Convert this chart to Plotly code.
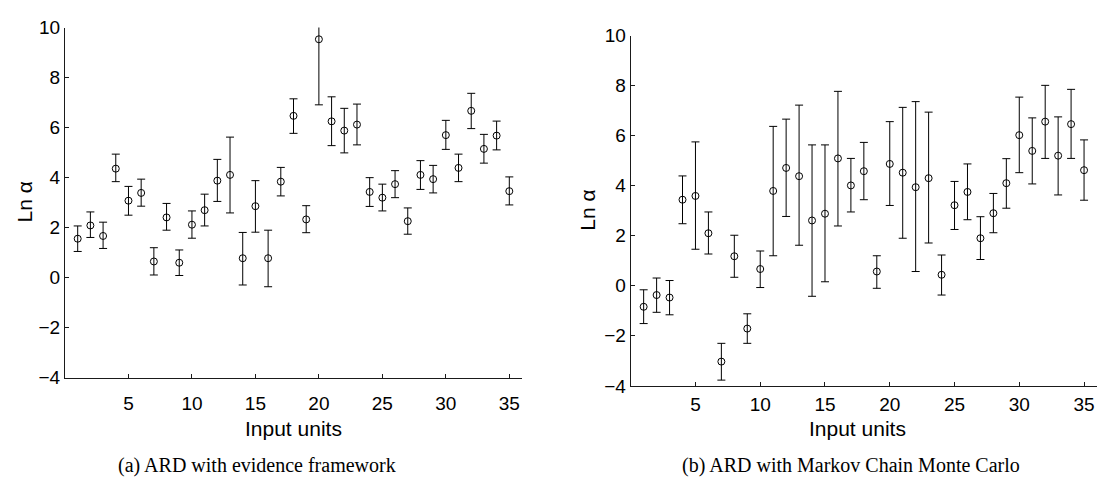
import plotly.graph_objects as go

# ---------------- data ----------------
units = list(range(1, 36))

# (a) ARD with evidence framework
ev_val = [1.56, 2.09, 1.67, 4.36, 3.08, 3.39, 0.65, 2.41, 0.60, 2.12,
          2.70, 3.88, 4.11, 0.78, 2.86, 0.78, 3.84, 6.47, 2.33, 9.53,
          6.25, 5.88, 6.12, 3.43, 3.20, 3.74, 2.26, 4.11, 3.94, 5.70,
          4.39, 6.67, 5.15, 5.68, 3.46]
ev_up = [0.51, 0.54, 0.55, 0.58, 0.57, 0.55, 0.55, 0.56, 0.51, 0.55,
         0.64, 0.85, 1.51, 1.03, 1.02, 1.12, 0.57, 0.68, 0.55, 2.62,
         0.98, 0.89, 0.82, 0.57, 0.54, 0.54, 0.53, 0.57, 0.55, 0.59,
         0.55, 0.70, 0.58, 0.58, 0.57]
ev_dn = [0.51, 0.48, 0.50, 0.52, 0.58, 0.53, 0.54, 0.51, 0.51, 0.54,
         0.63, 0.83, 1.52, 1.07, 1.04, 1.14, 0.57, 0.70, 0.53, 2.62,
         0.97, 0.89, 0.81, 0.58, 0.53, 0.54, 0.52, 0.58, 0.55, 0.57,
         0.55, 0.71, 0.57, 0.57, 0.55]

# (b) ARD with Markov Chain Monte Carlo
mc_val = [-0.84, -0.37, -0.47, 3.44, 3.59, 2.10, -3.03, 1.18, -1.71, 0.67,
          3.79, 4.71, 4.38, 2.61, 2.88, 5.09, 4.01, 4.58, 0.57, 4.87,
          4.52, 3.94, 4.30, 0.44, 3.22, 3.75, 1.90, 2.90, 4.10, 6.02,
          5.39, 6.56, 5.20, 6.46, 4.62]
mc_up = [0.68, 0.68, 0.68, 0.95, 2.16, 0.85, 0.73, 0.84, 0.59, 0.72,
         2.58, 1.95, 2.84, 3.02, 2.75, 2.68, 1.08, 1.15, 0.63, 1.69,
         2.61, 3.42, 2.64, 0.79, 0.95, 1.12, 0.86, 0.79, 0.98, 1.52,
         1.32, 1.45, 1.55, 1.39, 1.21]
mc_dn = [0.67, 0.69, 0.69, 0.96, 2.13, 0.83, 0.74, 0.84, 0.59, 0.74,
         2.59, 1.94, 2.76, 3.03, 2.72, 2.70, 1.06, 1.14, 0.67, 1.66,
         2.62, 3.37, 2.59, 0.81, 0.97, 1.11, 0.85, 0.78, 1.00, 1.50,
         1.32, 1.47, 1.57, 1.37, 1.20]

x_ticks = [5, 10, 15, 20, 25, 30, 35]
y_ticks = [-4, -2, 0, 2, 4, 6, 8, 10]

x_title = "Input units"
y_title = "Ln α"
captions = ["(a) ARD with evidence framework",
            "(b) ARD with Markov Chain Monte Carlo"]

# ---------------- figure ----------------
W, H = 1109, 490
fig = go.Figure()

def add_series(vals, up, dn, xa, ya):
    fig.add_trace(go.Scatter(
        x=units, y=vals, mode="markers", xaxis=xa, yaxis=ya,
        showlegend=False, hoverinfo="x+y",
        marker=dict(symbol="circle-open", size=7, color="black",
                    line=dict(width=1, color="black")),
        error_y=dict(type="data", symmetric=False, array=up,
                     arrayminus=dn, color="black", thickness=1, width=4),
    ))

add_series(ev_val, ev_up, ev_dn, "x", "y")
add_series(mc_val, mc_up, mc_dn, "x2", "y2")

axis_common = dict(
    showline=True, linecolor="#1a1a1a", linewidth=1, mirror=False,
    ticks="inside", ticklen=4, tickcolor="#1a1a1a", tickwidth=1,
    showgrid=False, zeroline=False,
    tickfont=dict(family="Liberation Sans, Arial, sans-serif", size=19, color="black"),
)

def px_x(p):
    return p / W

def px_y(p):
    return 1 - p / H

fig.update_layout(
    width=W, height=H,
    margin=dict(l=0, r=0, t=0, b=0),
    paper_bgcolor="white", plot_bgcolor="white",
    xaxis=dict(domain=[px_x(65), px_x(522)], range=[0, 36], tickvals=x_ticks,
               anchor="y", ticklabelstandoff=8, **axis_common),
    yaxis=dict(domain=[px_y(384.3), px_y(18.3)], range=[-4, 10], tickvals=y_ticks,
               anchor="x", **axis_common),
    xaxis2=dict(domain=[px_x(630.7), px_x(1097)], range=[0, 36], tickvals=x_ticks,
                anchor="y2", ticklabelstandoff=1, **axis_common),
    yaxis2=dict(domain=[px_y(392.7), px_y(26.7)], range=[-4, 10], tickvals=y_ticks,
                anchor="x2", **axis_common),
)

sans = dict(family="Liberation Sans, Arial, sans-serif", size=21, color="black")
serif = dict(family="Liberation Serif, Times New Roman, serif", size=20, color="black")

ann = [
    dict(text=y_title, x=px_x(24), y=px_y(201), textangle=-90, font=sans),
    dict(text=y_title, x=px_x(588), y=px_y(209.7), textangle=-90, font=sans),
    dict(text=x_title, x=px_x(293), y=px_y(437), font=sans),
    dict(text=x_title, x=px_x(858), y=px_y(437), font=sans),
    dict(text=captions[0], x=px_x(257), y=px_y(476), font=serif),
    dict(text=captions[1], x=px_x(851), y=px_y(476), font=serif),
]
for a in ann:
    fig.add_annotation(xref="paper", yref="paper", showarrow=False,
                       xanchor="center", yanchor="middle", **a)

fig.write_html("out.html")
